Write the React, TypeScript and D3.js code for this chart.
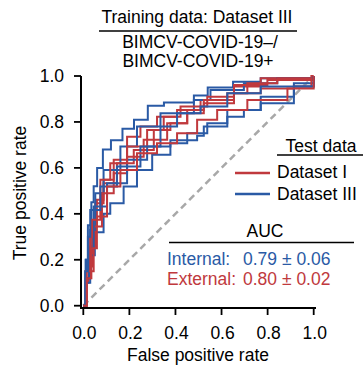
import React from "react";
import * as d3 from "d3";

const xTicks = [0, 0.2, 0.4, 0.6, 0.8, 1.0];
const yTicks = [0, 0.2, 0.4, 0.6, 0.8, 1.0];

const blueA: [number, number][] = [[0,0],[0.01,0.2],[0.02,0.35],[0.035,0.45],[0.045,0.52],[0.06,0.6],[0.085,0.68],[0.12,0.72],[0.17,0.77],[0.22,0.81],[0.28,0.87],[0.35,0.885],[0.48,0.915],[0.54,0.95],[0.65,0.975],[0.77,0.99],[1,1]];
const blueB: [number, number][] = [[0,0],[0.015,0.1],[0.03,0.22],[0.05,0.32],[0.088,0.4],[0.117,0.446],[0.175,0.519],[0.233,0.591],[0.299,0.657],[0.378,0.707],[0.451,0.751],[0.538,0.794],[0.625,0.823],[0.697,0.852],[0.77,0.91],[0.914,0.968],[1,1]];
const blueC: [number, number][] = [[0,0],[0.012,0.2],[0.03,0.33],[0.052,0.49],[0.088,0.591],[0.161,0.693],[0.233,0.78],[0.335,0.838],[0.48,0.896],[0.552,0.939],[0.697,0.968],[0.842,0.99],[1,1]];
const blueD: [number, number][] = [[0,0],[0.01,0.12],[0.025,0.25],[0.045,0.432],[0.103,0.533],[0.19,0.635],[0.277,0.693],[0.378,0.72],[0.494,0.74],[0.523,0.78],[0.625,0.852],[0.77,0.881],[0.914,0.954],[1,1]];
const blueE: [number, number][] = [[0,0],[0.008,0.15],[0.02,0.3],[0.03,0.417],[0.074,0.519],[0.146,0.606],[0.248,0.693],[0.335,0.78],[0.407,0.838],[0.509,0.867],[0.625,0.925],[0.77,0.954],[1,1]];

const redA: [number, number][] = [[0,0],[0.01,0.1],[0.023,0.171],[0.038,0.345],[0.059,0.461],[0.088,0.548],[0.132,0.635],[0.19,0.736],[0.248,0.78],[0.32,0.823],[0.407,0.852],[0.509,0.896],[0.654,0.954],[0.77,0.99],[1,1]];
const redB: [number, number][] = [[0,0],[0.012,0.12],[0.03,0.258],[0.052,0.446],[0.088,0.533],[0.146,0.62],[0.219,0.678],[0.306,0.765],[0.378,0.794],[0.451,0.838],[0.523,0.881],[0.654,0.925],[0.77,0.946],[0.914,0.954],[0.99,1],[1,1]];
const redC: [number, number][] = [[0,0],[0.015,0.15],[0.045,0.345],[0.081,0.49],[0.132,0.577],[0.19,0.649],[0.262,0.722],[0.364,0.794],[0.451,0.852],[0.523,0.896],[0.625,0.925],[0.712,0.968],[0.842,0.99],[1,1]];
const redD: [number, number][] = [[0,0],[0.01,0.15],[0.03,0.3],[0.038,0.374],[0.074,0.548],[0.117,0.62],[0.19,0.693],[0.277,0.765],[0.349,0.823],[0.422,0.867],[0.538,0.91],[0.654,0.961],[0.799,0.983],[1,1]];
const redE: [number, number][] = [[0,0],[0.015,0.12],[0.035,0.25],[0.059,0.388],[0.103,0.519],[0.161,0.591],[0.233,0.664],[0.32,0.707],[0.407,0.751],[0.494,0.809],[0.581,0.852],[0.712,0.896],[0.886,0.946],[1,0.983],[1,1]];

const blueCurves = [blueA, blueB, blueC, blueD, blueE];
const redCurves = [redA, redB, redC, redD, redE];

const RED = "#c0393d";
const BLUE = "#2a5aa5";
const FONT = "'Liberation Sans', Arial, Helvetica, sans-serif";

export default function App() {
  const x = d3.scaleLinear().domain([-0.01, 1.01]).range([81, 316]);
  const y = d3.scaleLinear().domain([-0.01, 1.0]).range([308, 76]);
  const line = d3
    .line<[number, number]>()
    .x((d) => x(d[0]))
    .y((d) => y(d[1]))
    .curve(d3.curveStepAfter);

  const order: { data: [number, number][]; color: string }[] = [];
  for (let i = 0; i < 5; i++) {
    order.push({ data: blueCurves[i], color: BLUE });
    order.push({ data: redCurves[i], color: RED });
  }

  return (
    <svg
      width={363}
      height={367}
      style={{ position: "absolute", left: 0, top: 0, fontFamily: FONT }}
    >
      <rect width={363} height={367} fill="#fff" />
      {/* title */}
      <text x={197} y={23} fontSize={17.5} textAnchor="middle">Training data: Dataset III</text>
      <line x1={99} x2={297} y1={31} y2={31} stroke="#000" strokeWidth={1.5} />
      <text x={200} y={48} fontSize={17.5} textAnchor="middle">BIMCV-COVID-19–/</text>
      <text x={198} y={67} fontSize={17.5} textAnchor="middle">BIMCV-COVID-19+</text>

      {/* diagonal */}
      <line
        x1={x(0)} y1={y(0)} x2={x(1)} y2={y(1)}
        stroke="#a8a8a8" strokeWidth={2.5} strokeDasharray="7,4.5"
      />

      {/* curves */}
      {order.map((c, i) => (
        <path key={i} d={line(c.data) || ""} fill="none" stroke={c.color} strokeWidth={2} />
      ))}

      {/* axes */}
      <line x1={x(-0.01)} x2={x(-0.01)} y1={y(1.0)} y2={y(-0.01) + 1} stroke="#000" strokeWidth={2} />
      <line x1={x(-0.01) - 1} x2={x(1.01)} y1={y(-0.01)} y2={y(-0.01)} stroke="#000" strokeWidth={2} />
      {xTicks.map((t) => (
        <g key={"x" + t}>
          <line x1={x(t)} x2={x(t)} y1={y(-0.01)} y2={y(-0.01) + 7} stroke="#000" strokeWidth={1.8} />
          <text x={x(t) + 1} y={339} fontSize={17.5} textAnchor="middle">{t.toFixed(1)}</text>
        </g>
      ))}
      {yTicks.map((t) => (
        <g key={"y" + t}>
          <line x1={x(-0.01) - 7} x2={x(-0.01)} y1={y(t)} y2={y(t)} stroke="#000" strokeWidth={1.8} />
          <text x={64} y={y(t) + 6} fontSize={17.5} textAnchor="end">{t.toFixed(1)}</text>
        </g>
      ))}
      <text x={198} y={361} fontSize={17.5} textAnchor="middle">False positive rate</text>
      <text transform="translate(26,193) rotate(-90)" fontSize={17.5} textAnchor="middle">True positive rate</text>

      {/* legend */}
      <text x={321} y={152} fontSize={17.5} textAnchor="middle">Test data</text>
      <line x1={277} x2={365} y1={155} y2={155} stroke="#000" strokeWidth={1.5} />
      <line x1={235} x2={270} y1={173} y2={173} stroke={RED} strokeWidth={2.5} />
      <line x1={235} x2={270} y1={194} y2={194} stroke={BLUE} strokeWidth={2.5} />
      <text x={277} y={178} fontSize={17.5}>Dataset I</text>
      <text x={277} y={200} fontSize={17.5}>Dataset III</text>

      {/* AUC */}
      <text x={265} y={237} fontSize={17.5} textAnchor="middle">AUC</text>
      <line x1={169} x2={354} y1={242.5} y2={242.5} stroke="#000" strokeWidth={1.5} />
      <text x={167} y={265} fontSize={17.5} fill={BLUE}>Internal:</text>
      <text x={243} y={265} fontSize={17.5} fill={BLUE}>0.79 ± 0.06</text>
      <text x={167} y={285} fontSize={17.5} fill={RED}>External:</text>
      <text x={243} y={285} fontSize={17.5} fill={RED}>0.80 ± 0.02</text>
    </svg>
  );
}
